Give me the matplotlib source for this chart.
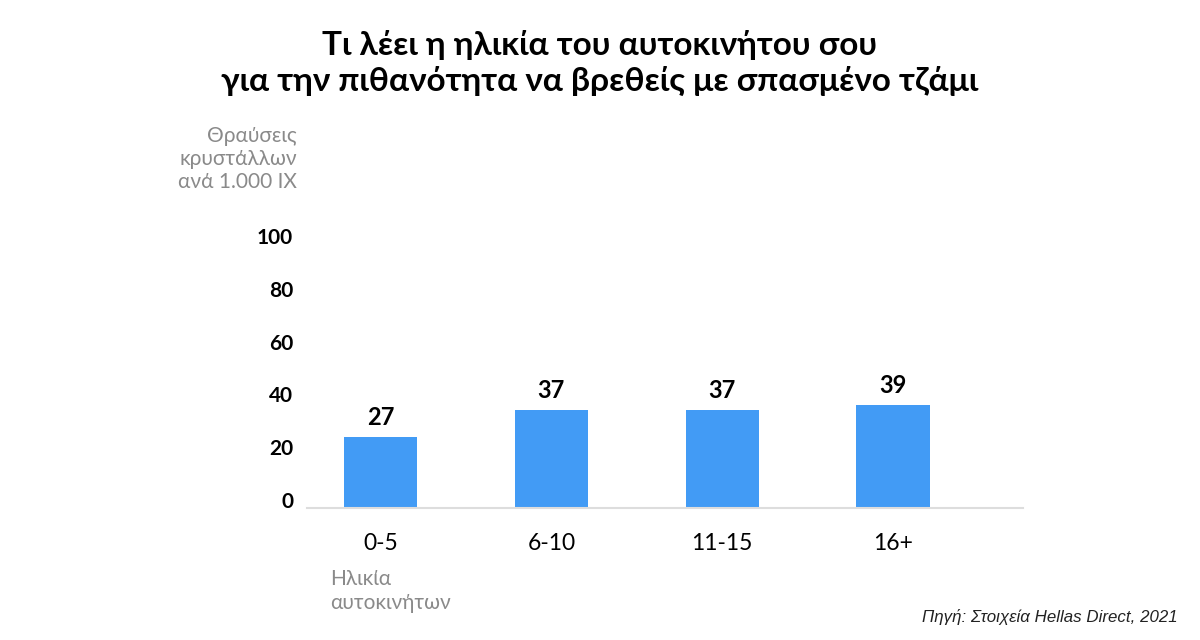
import matplotlib.pyplot as plt
from matplotlib.transforms import ScaledTranslation

plt.rcParams['font.family'] = ['Lato', 'DejaVu Sans']

# data
age_groups = ['0-5', '6-10', '11-15', '16+']
breakages = [27, 37, 37, 39]
yticks = [0, 20, 40, 60, 80, 100]

bar_color = '#429bf5'
grey = '#8a8a8a'

fig = plt.figure(figsize=(12, 6.4), dpi=100)
# axes: left edge x=307, right 1023, baseline y=508, 100 at y=244
ax = fig.add_axes([307 / 1200, 1 - 508 / 640, (1023 - 307) / 1200, (508 - 244) / 640])

x = range(len(age_groups))
bars = ax.bar(x, breakages, width=0.43, color=bar_color, zorder=2)
for b, v in zip(bars, breakages):
    ax.text(b.get_x() + b.get_width() / 2, v + 3, str(v), ha='center', va='bottom',
            fontsize=17, fontweight='bold', color='black')

ax.set_xlim(-0.43, 3.76)
ax.set_ylim(0, 100)
ax.set_yticks(yticks)
ax.set_yticklabels([str(t) for t in yticks], fontsize=15, fontweight='bold')
ax.set_xticks(list(x))
ax.set_xticklabels(age_groups, fontsize=16.5)

for s in ['top', 'right', 'left']:
    ax.spines[s].set_visible(False)
ax.spines['bottom'].set_color('#dddddd')
ax.spines['bottom'].set_linewidth(1.5)
ax.tick_params(axis='both', length=0)
ax.tick_params(axis='y', pad=10)
ax.tick_params(axis='x', pad=18)

shift = ScaledTranslation(0, 8 / 100, fig.dpi_scale_trans)
for lbl in ax.get_yticklabels():
    lbl.set_transform(lbl.get_transform() + shift)

fig.text(0.5, 1 - 63 / 640,
         'Τι λέει η ηλικία του αυτοκινήτου σου\nγια την πιθανότητα να βρεθείς με σπασμένο τζάμι',
         ha='center', va='center', fontsize=24, fontweight='bold', linespacing=1.25)

fig.text(297 / 1200, 1 - 159 / 640, 'Θραύσεις\nκρυστάλλων\nανά 1.000 ΙΧ',
         ha='right', va='center', fontsize=15, color=grey, linespacing=1.2)

fig.text(330 / 1200, 1 - 591 / 640, 'Ηλικία\nαυτοκινήτων',
         ha='left', va='center', fontsize=15, color=grey, linespacing=1.2)

fig.text(1178 / 1200, 1 - 617 / 640, 'Πηγή: Στοιχεία Hellas Direct, 2021',
         ha='right', va='center', fontsize=12.2, style='italic',
         family=['Liberation Sans', 'DejaVu Sans'], color='#222222')

fig.savefig('out.png', dpi=100)
